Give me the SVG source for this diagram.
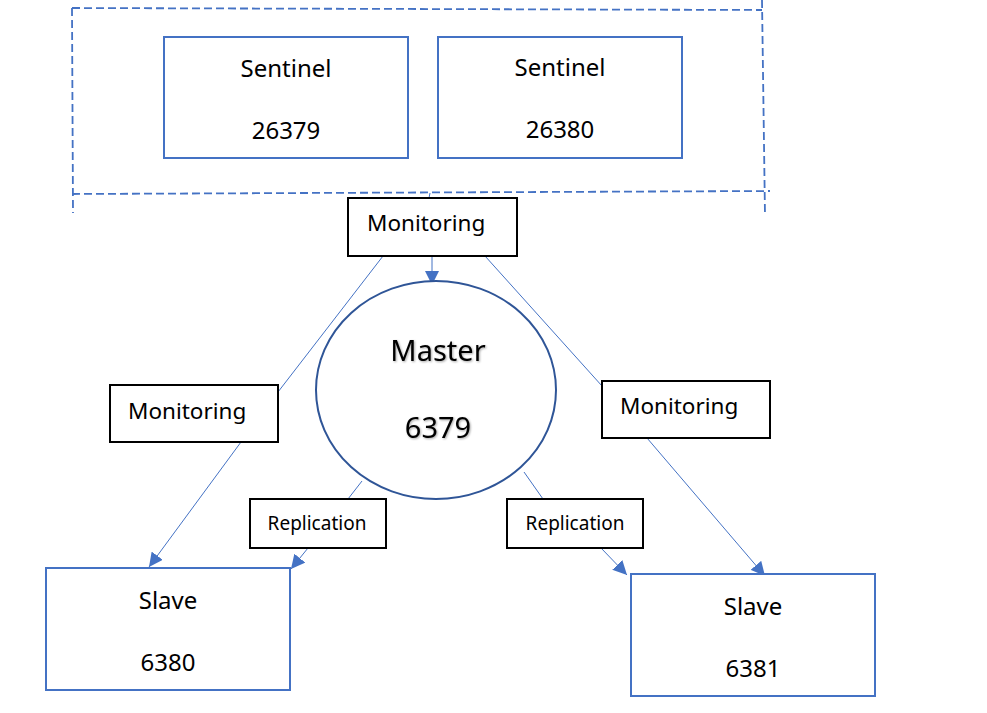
<svg xmlns="http://www.w3.org/2000/svg" width="987" height="713" viewBox="0 0 987 713">
<defs>
<style>
.bx{fill:#fff;stroke:#4472C4;stroke-width:2}
.lb{fill:#fff;stroke:#000;stroke-width:2}
.t{font-family:"Noto Sans","Open Sans",sans-serif;fill:#000;text-anchor:middle}
.big{font-size:24px}
.mon{font-size:22.5px;text-anchor:start}
.rep{font-size:19px}
.c{stroke:#4472C4;stroke-width:1;fill:none}
.d{stroke:#4472C4;stroke-width:1.8;fill:none;stroke-dasharray:8 4}
</style>
<marker id="ah" viewBox="0 0 10 10" refX="10" refY="5" markerWidth="14" markerHeight="14" markerUnits="userSpaceOnUse" orient="auto">
<path d="M0,0 L10,5 L0,10 Z" fill="#4472C4"/>
</marker>
<filter id="sh" x="-10%" y="-10%" width="130%" height="140%">
<feDropShadow dx="1" dy="1" stdDeviation="1" flood-color="#000" flood-opacity="0.35"/>
</filter>
</defs>
<rect width="987" height="713" fill="#fff"/>
<g id="sentinel-group">
<path class="d" d="M72,8 L762,10"/>
<path class="d" d="M72,8 L73,213"/>
<path class="d" d="M72,194 L770,191"/>
<path class="d" d="M762,0 L765,216"/>
</g>
<g id="connectors">
<path class="c" d="M430,193 L429,198"/>
<path class="c" d="M432,256 L432,285" marker-end="url(#ah)"/>
<path class="c" d="M383,256 L278,392"/>
<path class="c" d="M241,442 L149,567" marker-end="url(#ah)"/>
<path class="c" d="M485,256 L602,386"/>
<path class="c" d="M647,438 L765,576" marker-end="url(#ah)"/>
<path class="c" d="M362,481 L348,499"/>
<path class="c" d="M308,548 L291,569" marker-end="url(#ah)"/>
<path class="c" d="M524,472 L543,499"/>
<path class="c" d="M601,548 L627,575" marker-end="url(#ah)"/>
</g>
<g id="sentinel-26379">
<rect class="bx" x="164" y="37" width="244" height="121"/>
<text class="t big" x="286" y="77">Sentinel</text>
<text class="t big" x="286" y="139">26379</text>
</g>
<g id="sentinel-26380">
<rect class="bx" x="438" y="37" width="244" height="121"/>
<text class="t big" x="560" y="76">Sentinel</text>
<text class="t big" x="560" y="138">26380</text>
</g>
<g id="monitoring-top">
<rect class="lb" x="348" y="198" width="169" height="58"/>
<text class="t mon" x="367" y="231">Monitoring</text>
</g>
<g id="monitoring-left">
<rect class="lb" x="110" y="385" width="168" height="57"/>
<text class="t mon" x="128" y="419">Monitoring</text>
</g>
<g id="monitoring-right">
<rect class="lb" x="602" y="381" width="168" height="57"/>
<text class="t mon" x="620" y="414">Monitoring</text>
</g>
<g id="master">
<ellipse cx="436" cy="390" rx="120" ry="109" fill="#fff" stroke="#2F5597" stroke-width="2"/>
<text class="t" x="438" y="361" font-size="29" filter="url(#sh)">Master</text>
<text class="t" x="438" y="438" font-size="29" filter="url(#sh)">6379</text>
</g>
<g id="replication-left">
<rect class="lb" x="250" y="499" width="136" height="49"/>
<text class="t rep" x="317" y="530">Replication</text>
</g>
<g id="replication-right">
<rect class="lb" x="507" y="499" width="136" height="49"/>
<text class="t rep" x="575" y="530">Replication</text>
</g>
<g id="slave-6380">
<rect class="bx" x="46" y="568" width="244" height="122"/>
<text class="t big" x="168" y="609">Slave</text>
<text class="t big" x="168" y="671">6380</text>
</g>
<g id="slave-6381">
<rect class="bx" x="631" y="574" width="244" height="122"/>
<text class="t big" x="753" y="615">Slave</text>
<text class="t big" x="753" y="677">6381</text>
</g>
</svg>
